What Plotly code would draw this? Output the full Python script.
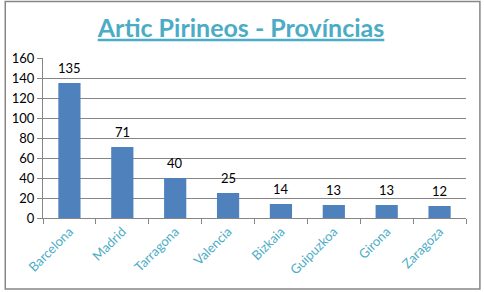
import plotly.graph_objects as go

categories = ["Barcelona", "Madrid", "Tarragona", "Valencia", "Bizkaia", "Guipuzkoa", "Girona", "Zaragoza"]
values = [135, 71, 40, 25, 14, 13, 13, 12]
y_ticks = [0, 20, 40, 60, 80, 100, 120, 140, 160]

W, H = 484, 292
ml, mr, mt, mb = 40, 18, 58, 74
pw, ph = W - ml - mr, H - mt - mb

fig = go.Figure(go.Bar(
    x=categories, y=values,
    marker=dict(color="#4F81BD", line=dict(width=0)),
))

for c, v in zip(categories, values):
    fig.add_annotation(
        x=c, y=v, text=str(v), showarrow=False,
        yanchor="bottom", yshift=5,
        font=dict(family="Lato, sans-serif", size=13, color="#000000"),
    )

def px2x(p):
    return (p - ml) / pw

def py2y(p):
    return (H - mb - p) / ph

fig.update_layout(
    width=W, height=H,
    margin=dict(l=ml, r=mr, t=mt, b=mb),
    paper_bgcolor="white", plot_bgcolor="white",
    bargap=0.58,
    showlegend=False,
    title=dict(
        text="<b><u>Artic Pirineos - Províncias</u></b>",
        x=241 / W, xanchor="center", xref="container", y=1 - 28 / H, yanchor="middle",
        font=dict(family="Lato, sans-serif", size=25, color="#4BACC6"),
    ),
    xaxis=dict(
        showline=True, linecolor="#868686", linewidth=1,
        ticks="outside", tickson="boundaries", ticklen=5, tickcolor="#868686",
        tickangle=-45,
        tickfont=dict(family="Lato, sans-serif", size=13, color="#4BACC6"),
    ),
    yaxis=dict(
        range=[0, 160], tickvals=y_ticks,
        showline=True, linecolor="#868686", linewidth=1,
        ticks="outside", ticklen=5, tickcolor="#868686",
        showgrid=True, gridcolor="#868686", gridwidth=1,
        tickfont=dict(family="Lato, sans-serif", size=13, color="#000000"),
        zeroline=False,
    ),
    shapes=[dict(
        type="rect", xref="paper", yref="paper",
        x0=px2x(2), x1=px2x(480), y0=py2y(289), y1=py2y(1.5),
        line=dict(color="#868686", width=1.5), fillcolor="rgba(0,0,0,0)",
        layer="below",
    )],
)

fig.write_html("out.html")
